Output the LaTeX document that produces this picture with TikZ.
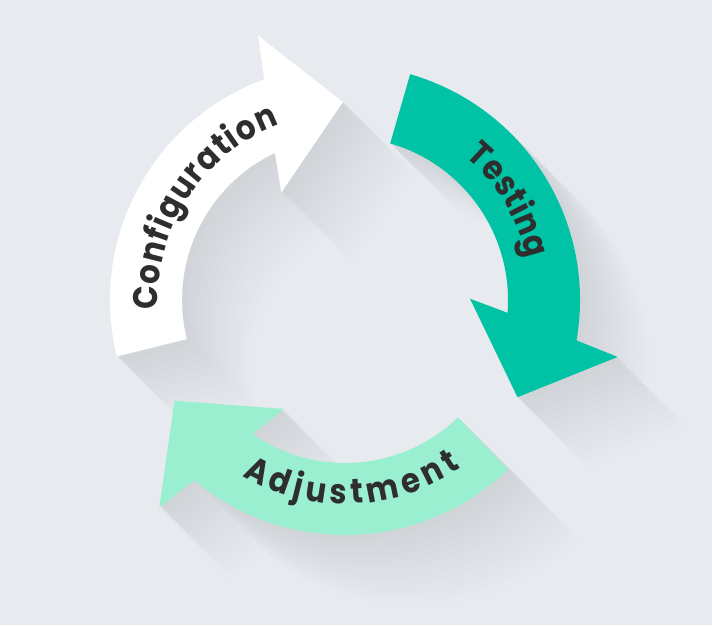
\documentclass[tikz,border=0pt]{standalone}
\usepackage{fontspec}
\newfontfamily\poppins{Poppins}[UprightFont=* Bold, FakeStretch=0.9]
\usetikzlibrary{decorations.text}

\definecolor{bgcol}{HTML}{E7EAEE}
\definecolor{shadowcol}{HTML}{D0D4D8}
\definecolor{configcol}{HTML}{FFFFFF}
\definecolor{testcol}{HTML}{00C3A5}
\definecolor{adjustcol}{HTML}{99EFCF}
\definecolor{labelcol}{HTML}{2E2E2E}

\newcommand{\ringarrow}[1]{({#1+103.3}:235) arc[start angle={#1+103.3}, end angle={#1+19.5}, radius=235] -- ({#1+17.6}:278.5) -- (#1:198) -- ({#1+30}:125) -- ({#1+24.9}:163) arc[start angle={#1+24.9}, end angle={#1+103.3}, radius=163] -- cycle}
\newcommand{\labelfont}{\poppins\fontsize{19.5}{24}\selectfont}

\begin{document}
\begin{tikzpicture}[x=0.02cm,y=0.02cm]

\fill[bgcol] (-345,-325) rectangle (367,300);
\useasboundingbox (-345,-325) rectangle (367,300);

\foreach \d [evaluate=\d as \p using {100-100*\d/72}] in {72,70,...,2}{
  \begin{scope}[shift={(\d,-\d)}]
    \fill[shadowcol!\p!bgcol] \ringarrow{90.6} \ringarrow{-29.4} \ringarrow{210.6};
  \end{scope}
}

\fill[configcol] \ringarrow{90.6};
\fill[testcol] \ringarrow{-29.4};
\fill[adjustcol] \ringarrow{210.6};

\path[decorate, decoration={text along path, text align=fit to path, text color=labelcol,
  text={|\labelfont|Configuration}}]
  (183:187) arc[start angle=183, end angle=110.5, radius=187];
\path[decorate, decoration={text along path, text align=fit to path, text color=labelcol,
  text={|\labelfont|Testing}}]
  (50:187) arc[start angle=50, end angle=12.8, radius=187];
\path[decorate, decoration={text along path, text align=fit to path, text color=labelcol,
  text={|\labelfont|Adjustment}}]
  (239.8:204) arc[start angle=239.8, end angle=304.5, radius=204];

\end{tikzpicture}
\end{document}
